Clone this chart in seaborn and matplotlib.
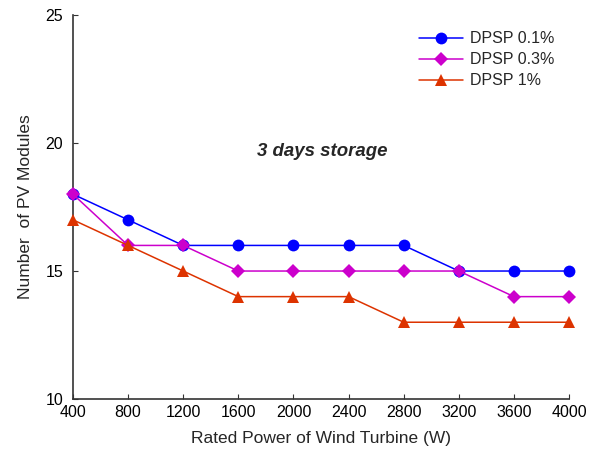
import matplotlib
matplotlib.use("Agg")
from matplotlib import pyplot as plt
import pandas as pd
import seaborn as sns

# Rated power of the wind turbine (W) and number of PV modules per DPSP level
rated_power = [400, 800, 1200, 1600, 2000, 2400, 2800, 3200, 3600, 4000]
dpsp_01 = [18, 17, 16, 16, 16, 16, 16, 15, 15, 15]
dpsp_03 = [18, 16, 16, 15, 15, 15, 15, 15, 14, 14]
dpsp_1 = [17, 16, 15, 14, 14, 14, 13, 13, 13, 13]
series_labels = ["DPSP 0.1%", "DPSP 0.3%", "DPSP 1%"]

df = pd.DataFrame({"Power": rated_power * 3,
                   "Modules": dpsp_01 + dpsp_03 + dpsp_1,
                   "Series": [s for s in series_labels for _ in rated_power]})

sns.set_style("ticks")
plt.rcParams["font.family"] = ["Liberation Sans", "DejaVu Sans"]

fig = plt.figure(figsize=(6.08, 4.55), dpi=100)
ax = fig.add_axes([0.120, 0.123, 0.816, 0.844])

palette = {"DPSP 0.1%": "#0000ff", "DPSP 0.3%": "#cc00cc", "DPSP 1%": "#dd3300"}
markers = {"DPSP 0.1%": "o", "DPSP 0.3%": "D", "DPSP 1%": "^"}
sizes = {"DPSP 0.1%": 8.5, "DPSP 0.3%": 7, "DPSP 1%": 9}

for name in series_labels:
    sub = df[df["Series"] == name]
    sns.lineplot(data=sub, x="Power", y="Modules", ax=ax, color=palette[name],
                 marker=markers[name], markersize=sizes[name], markeredgewidth=0,
                 linewidth=1.1, label=name, clip_on=False, zorder=3)

ax.set_xlim(400, 4000)
ax.set_ylim(10, 25)
ax.set_xticks(rated_power)
ax.set_yticks([10, 15, 20, 25])
ax.tick_params(direction="in", length=3.5, labelsize=11.5, colors="#333333",
               labelcolor="black")
ax.tick_params(axis="y", pad=7)
ax.tick_params(axis="x", pad=4)
sns.despine(ax=ax)
for sp in ["left", "bottom"]:
    ax.spines[sp].set_linewidth(1.2)
    ax.spines[sp].set_color("#333333")

ax.set_xlabel("Rated Power of Wind Turbine (W)", fontsize=12.5, labelpad=8)
ax.set_ylabel("Number  of PV Modules", fontsize=12.5, labelpad=9)
ax.text(2207, 19.68, "3 days storage", fontsize=13.4, fontweight="bold",
        fontstyle="italic", ha="center", va="center")

ax.legend(loc="upper right", frameon=False, fontsize=11.5, handlelength=2.75,
          labelspacing=0.38, handletextpad=0.45, borderaxespad=0.3,
          bbox_to_anchor=(0.993, 0.987))

fig.savefig("out.png", dpi=100)
